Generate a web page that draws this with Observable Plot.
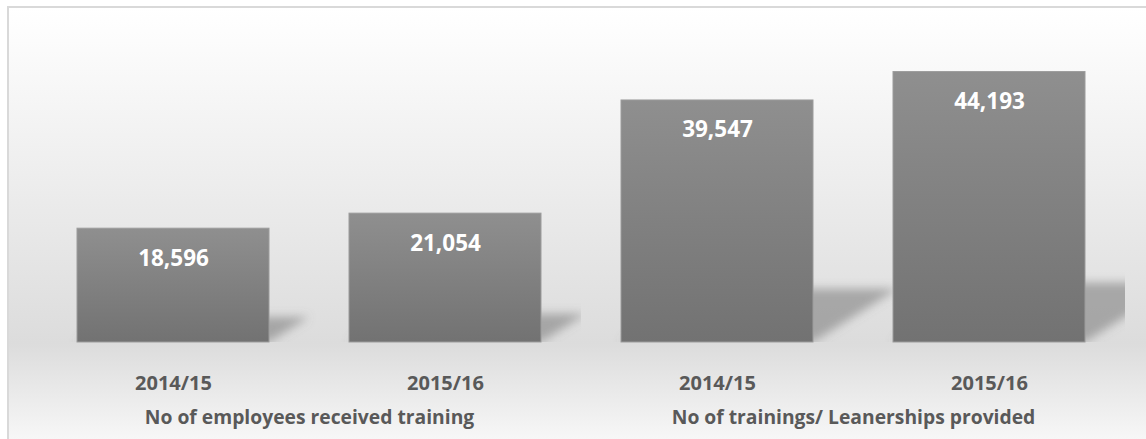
<!DOCTYPE html>
<html><head><meta charset="utf-8">
<script src="https://cdn.jsdelivr.net/npm/d3@7"></script>
<script src="https://cdn.jsdelivr.net/npm/@observablehq/plot@0.6"></script>
<style>
html,body{margin:0;padding:0;background:#fff;}
#wrap{position:relative;width:1146px;height:439px;overflow:hidden;}
#bg{position:absolute;left:7px;top:6px;width:1160px;height:460px;border-left:2px solid #d9d9d9;border-top:2px solid #d9d9d9;background:linear-gradient(to bottom,#ffffff 0%,#fdfdfd 5%,#dcdcdc 73%,#ffffff 100%);}
#chart{position:absolute;left:0;top:0;}
</style></head><body>
<div id="wrap"><div id="bg"></div><div id="chart"></div></div>
<script>
const groups = ["No of employees received training", "No of trainings/ Leanerships provided"];
const years = ["2014/15", "2015/16"];
const employeesTrained = [18596, 21054];
const trainingsProvided = [39547, 44193];

const data = [
  ...years.map((year, i) => ({group: groups[0], year, value: employeesTrained[i]})),
  ...years.map((year, i) => ({group: groups[1], year, value: trainingsProvided[i]}))
];

const SHADOW = "#767677";
const plot = Plot.plot({
  width: 1146, height: 439,
  marginLeft: 37, marginRight: 21, marginTop: 36, marginBottom: 97,
  style: {background: "transparent", fontFamily: "'Open Sans', sans-serif", color: "#595959"},
  fx: {domain: groups, padding: 0, label: null},
  x: {domain: years, paddingInner: 0.294, paddingOuter: 0.147, label: null},
  y: {domain: [0, 50000], axis: null},
  marks: [
    Plot.barY(data, {fx: "group", x: "year", y: "value", fill: SHADOW, fillOpacity: 0.55, clip: true}),
    Plot.barY(data, {fx: "group", x: "year", y: "value", fill: "url(#barGrad)", stroke: "#9c9c9c", strokeWidth: 1}),
    Plot.text(data, {fx: "group", x: "year", y: "value", text: d => d3.format(",")(d.value), lineAnchor: "top", dy: 21, fill: "white", fontSize: 22.5, fontWeight: "bold"}),
    Plot.axisX({anchor: "bottom", tickSize: 0, tickPadding: 33, fontSize: 20, fontWeight: "bold", fill: "#595959", label: null}),
    Plot.axisFx({anchor: "bottom", tickSize: 0, tickPadding: 68, fontSize: 19.3, fontWeight: "bold", fill: "#595959", label: null})
  ]
});

const svg = plot.tagName.toLowerCase() === "svg" ? plot : plot.querySelector("svg");
const ns = "http://www.w3.org/2000/svg";
const defs = document.createElementNS(ns, "defs");
defs.innerHTML = '<linearGradient id="barGrad" x1="0" y1="0" x2="0" y2="1"><stop offset="0" stop-color="#8f8f8f"/><stop offset="1" stop-color="#727272"/></linearGradient>' +
  '<filter id="shadowBlur" filterUnits="userSpaceOnUse" x="-1200" y="-100" width="3600" height="700"><feGaussianBlur stdDeviation="5"/></filter>';
svg.insertBefore(defs, svg.firstChild);
const k = -0.35, s = 0.22;
svg.querySelectorAll("rect").forEach(r => {
  const f = r.getAttribute("fill") || (r.closest("[fill]") && r.closest("[fill]").getAttribute("fill"));
  if (f !== SHADOW) return;
  const y = +r.getAttribute("y"), h = +r.getAttribute("height"), b = y + h;
  r.setAttribute("transform", `matrix(1,0,${k},${s},${-k * b},${b * (1 - s)})`);
  r.parentNode.setAttribute("filter", "url(#shadowBlur)");
});
document.getElementById("chart").appendChild(plot);
</script>
</body></html>
